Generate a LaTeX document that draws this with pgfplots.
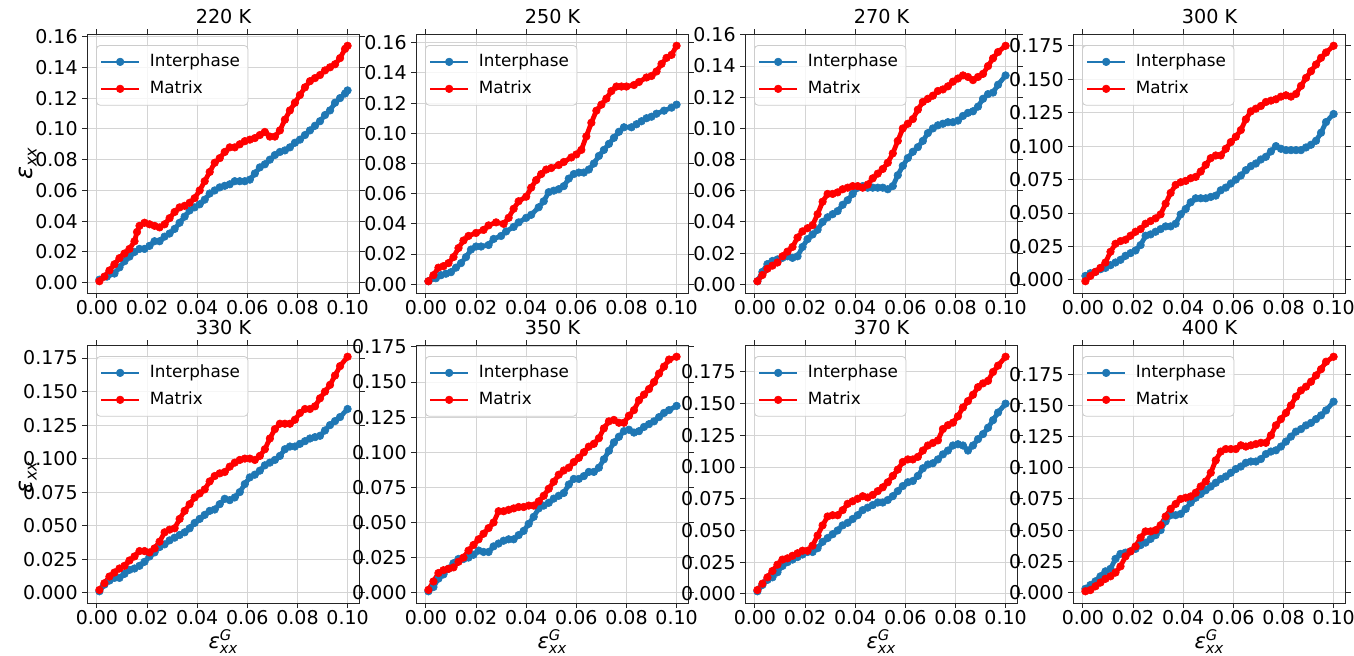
\documentclass[border=0pt]{standalone}
\usepackage{fontspec}
\setmainfont{DejaVu Sans}
\usepackage{amsmath}
\usepackage{pgfplots}
\pgfplotsset{compat=1.18}
\definecolor{cblue}{HTML}{1F77B4}
\definecolor{cred}{HTML}{FF0000}
\newcommand{\ylab}{$\text{\itshape ε}_{\text{\itshape xx}}$}
\newcommand{\xlab}{$\text{\itshape ε}^{\text{\itshape G}}_{\text{\itshape xx}}$}
\pgfplotsset{
 panel/.style={
   scale only axis, width=136.5pt, height=129.5pt, anchor=south west,
   enlarge x limits=0.05, enlarge y limits=0.05,
   xtick={0,0.02,0.04,0.06,0.08,0.1},
   scaled ticks=false,
   ticklabel style={font=\fontsize{9.5}{11}\selectfont},
   xticklabel style={inner ysep=1pt, /pgf/number format/.cd, fixed, fixed zerofill, precision=2, assume math mode=true},
   yticklabel style={inner xsep=2pt},
   tick align=outside, major tick length=2.5pt,
   tick style={black!85, line width=0.5pt},
   grid=major, major grid style={black!17, line width=0.5pt},
   axis line style={black!85, line width=0.5pt},
   every axis title/.style={at={(0.5,1)}, anchor=south, yshift=1.5pt, font=\fontsize{9.6}{11}\selectfont},
   every axis y label/.style={at={(axis description cs:0,0.5)}, anchor=center, xshift=-29.5pt, rotate=90, font=\fontsize{12}{14}\selectfont},
   every axis x label/.style={at={(axis description cs:0.5,0)}, anchor=north, inner sep=0pt, yshift=-13pt, font=\fontsize{10.5}{12}\selectfont},
   legend cell align=left,
   legend style={at={(0,1)}, xshift=4.5pt, yshift=-5.5pt, anchor=north west, draw=black!20, rounded corners=2pt, fill=white, fill opacity=0.8, text opacity=1, draw opacity=1, font=\fontsize{8.4}{10}\selectfont, inner xsep=2pt, inner ysep=2.3pt, row sep=1.6pt, column sep=3pt, nodes={inner sep=2pt, text depth=0.15em}},
   legend image code/.code={\draw[mark repeat=2, mark phase=2, #1, line width=0.75pt, opacity=1] plot coordinates {(0pt,0pt)(9.5pt,0pt)(19pt,0pt)};},
 },
 sI/.style={color=cblue, line width=2.4pt, line join=round, mark=*, mark size=1.9pt, mark options={solid, fill=cblue, draw=cblue, line width=0.3pt}},
 sM/.style={color=cred, line width=2.4pt, line join=round, mark=*, mark size=1.9pt, mark options={solid, fill=cred, draw=cred, line width=0.3pt}},
 yA/.style={ytick={0,0.02,0.04,0.06,0.08,0.1,0.12,0.14,0.16}, yticklabel style={/pgf/number format/.cd, fixed, fixed zerofill, precision=2, assume math mode=true}},
 yB/.style={ytick={0,0.025,0.05,0.075,0.1,0.125,0.15,0.175}, yticklabel style={/pgf/number format/.cd, fixed, fixed zerofill, precision=3, assume math mode=true}},
}
\begin{document}
\begin{tikzpicture}
\useasboundingbox (0,0) rectangle (677pt,327.5pt);
% ---------- 220 K
\begin{axis}[panel, yA, at={(43.5pt,181pt)}, title={220 K}, ylabel={\ylab}]
\addplot[sI] coordinates {(0.001,0.002)(0.004,0.004)(0.007,0.006)(0.009,0.010)(0.011,0.014)(0.013,0.017)(0.015,0.020)(0.017,0.022)(0.019,0.022)(0.021,0.024)(0.023,0.027)(0.025,0.027)(0.027,0.030)(0.029,0.032)(0.031,0.035)(0.033,0.039)(0.035,0.043)(0.037,0.047)(0.039,0.049)(0.041,0.051)(0.043,0.054)(0.045,0.058)(0.047,0.060)(0.049,0.062)(0.051,0.063)(0.053,0.064)(0.055,0.066)(0.057,0.066)(0.059,0.066)(0.061,0.067)(0.063,0.071)(0.065,0.075)(0.067,0.077)(0.069,0.080)(0.071,0.083)(0.073,0.085)(0.075,0.086)(0.077,0.088)(0.079,0.091)(0.081,0.093)(0.083,0.096)(0.085,0.099)(0.087,0.102)(0.089,0.105)(0.091,0.109)(0.093,0.112)(0.095,0.117)(0.097,0.120)(0.099,0.123)(0.100,0.125)};
\addlegendentry{Interphase}
\addplot[sM] coordinates {(0.001,0.001)(0.003,0.004)(0.005,0.008)(0.007,0.012)(0.009,0.016)(0.011,0.019)(0.013,0.022)(0.015,0.027)(0.016,0.033)(0.017,0.037)(0.019,0.039)(0.021,0.038)(0.023,0.037)(0.025,0.036)(0.027,0.038)(0.029,0.042)(0.031,0.046)(0.033,0.049)(0.035,0.050)(0.037,0.052)(0.039,0.055)(0.041,0.060)(0.043,0.066)(0.045,0.072)(0.047,0.078)(0.049,0.081)(0.051,0.085)(0.053,0.088)(0.055,0.088)(0.057,0.090)(0.059,0.092)(0.061,0.093)(0.063,0.094)(0.065,0.096)(0.067,0.098)(0.069,0.095)(0.071,0.095)(0.073,0.099)(0.075,0.106)(0.077,0.112)(0.079,0.117)(0.081,0.122)(0.083,0.127)(0.085,0.131)(0.087,0.133)(0.089,0.135)(0.091,0.138)(0.093,0.140)(0.095,0.142)(0.097,0.146)(0.099,0.152)(0.100,0.154)};
\addlegendentry{Matrix}
\end{axis}
% ---------- 250 K
\begin{axis}[panel, yA, at={(208pt,181pt)}, title={250 K}]
\addplot[sI] coordinates {(0.001,0.002)(0.004,0.004)(0.006,0.006)(0.008,0.007)(0.010,0.008)(0.012,0.011)(0.014,0.014)(0.016,0.018)(0.018,0.023)(0.020,0.025)(0.022,0.025)(0.025,0.026)(0.027,0.030)(0.030,0.032)(0.032,0.035)(0.035,0.038)(0.037,0.041)(0.040,0.044)(0.042,0.046)(0.045,0.051)(0.047,0.055)(0.049,0.061)(0.051,0.062)(0.053,0.063)(0.055,0.065)(0.057,0.070)(0.059,0.073)(0.061,0.074)(0.063,0.074)(0.065,0.076)(0.067,0.080)(0.069,0.085)(0.071,0.089)(0.073,0.093)(0.075,0.097)(0.077,0.101)(0.079,0.104)(0.082,0.104)(0.084,0.106)(0.086,0.108)(0.088,0.110)(0.090,0.111)(0.092,0.113)(0.095,0.115)(0.098,0.117)(0.100,0.119)};
\addlegendentry{Interphase}
\addplot[sM] coordinates {(0.001,0.002)(0.003,0.006)(0.005,0.011)(0.007,0.012)(0.009,0.014)(0.011,0.018)(0.013,0.024)(0.015,0.029)(0.017,0.032)(0.020,0.034)(0.023,0.036)(0.025,0.039)(0.028,0.041)(0.031,0.040)(0.033,0.044)(0.035,0.050)(0.037,0.055)(0.040,0.058)(0.042,0.064)(0.044,0.069)(0.046,0.073)(0.048,0.076)(0.050,0.077)(0.053,0.079)(0.055,0.081)(0.058,0.084)(0.060,0.086)(0.062,0.089)(0.064,0.098)(0.066,0.107)(0.068,0.115)(0.070,0.119)(0.072,0.123)(0.074,0.128)(0.076,0.131)(0.078,0.131)(0.080,0.131)(0.083,0.132)(0.085,0.134)(0.088,0.137)(0.090,0.138)(0.092,0.141)(0.094,0.146)(0.096,0.150)(0.098,0.152)(0.100,0.158)};
\addlegendentry{Matrix}
\end{axis}
% ---------- 270 K
\begin{axis}[panel, yA, at={(372.5pt,181pt)}, title={270 K}]
\addplot[sI] coordinates {(0.001,0.002)(0.003,0.008)(0.005,0.013)(0.007,0.015)(0.009,0.016)(0.011,0.017)(0.013,0.018)(0.015,0.017)(0.017,0.018)(0.019,0.024)(0.021,0.029)(0.023,0.032)(0.025,0.035)(0.027,0.040)(0.029,0.043)(0.031,0.045)(0.033,0.047)(0.035,0.051)(0.037,0.054)(0.039,0.058)(0.041,0.062)(0.043,0.063)(0.045,0.062)(0.047,0.062)(0.049,0.062)(0.051,0.062)(0.053,0.061)(0.055,0.063)(0.057,0.070)(0.059,0.076)(0.061,0.081)(0.063,0.085)(0.065,0.088)(0.067,0.092)(0.069,0.097)(0.071,0.100)(0.073,0.102)(0.075,0.103)(0.077,0.104)(0.079,0.104)(0.081,0.105)(0.083,0.108)(0.085,0.110)(0.087,0.111)(0.089,0.114)(0.091,0.119)(0.093,0.122)(0.095,0.123)(0.097,0.128)(0.100,0.134)};
\addlegendentry{Interphase}
\addplot[sM] coordinates {(0.001,0.002)(0.003,0.006)(0.005,0.010)(0.007,0.012)(0.009,0.014)(0.011,0.018)(0.013,0.021)(0.015,0.024)(0.017,0.030)(0.019,0.034)(0.021,0.036)(0.023,0.038)(0.025,0.045)(0.027,0.053)(0.029,0.058)(0.031,0.058)(0.033,0.059)(0.035,0.061)(0.037,0.062)(0.039,0.063)(0.041,0.063)(0.043,0.062)(0.045,0.064)(0.047,0.068)(0.049,0.071)(0.051,0.074)(0.053,0.078)(0.055,0.084)(0.057,0.092)(0.059,0.100)(0.061,0.103)(0.063,0.106)(0.065,0.112)(0.067,0.117)(0.069,0.119)(0.071,0.121)(0.073,0.124)(0.075,0.125)(0.077,0.127)(0.079,0.130)(0.081,0.132)(0.083,0.134)(0.085,0.133)(0.087,0.131)(0.089,0.133)(0.091,0.135)(0.093,0.140)(0.095,0.145)(0.097,0.149)(0.100,0.153)};
\addlegendentry{Matrix}
\end{axis}
% ---------- 300 K
\begin{axis}[panel, yB, at={(536.5pt,181pt)}, title={300 K}]
\addplot[sI] coordinates {(0.001,0.003)(0.003,0.005)(0.005,0.006)(0.007,0.008)(0.009,0.009)(0.011,0.011)(0.013,0.013)(0.015,0.015)(0.017,0.018)(0.019,0.020)(0.021,0.022)(0.023,0.026)(0.025,0.033)(0.027,0.034)(0.029,0.036)(0.031,0.038)(0.033,0.040)(0.035,0.040)(0.037,0.042)(0.039,0.049)(0.041,0.053)(0.043,0.058)(0.045,0.061)(0.047,0.061)(0.049,0.061)(0.051,0.062)(0.053,0.063)(0.055,0.067)(0.057,0.069)(0.059,0.072)(0.061,0.075)(0.063,0.078)(0.065,0.082)(0.067,0.085)(0.069,0.087)(0.071,0.090)(0.073,0.092)(0.075,0.096)(0.077,0.100)(0.079,0.098)(0.081,0.097)(0.083,0.097)(0.085,0.097)(0.087,0.097)(0.089,0.099)(0.091,0.101)(0.093,0.104)(0.095,0.110)(0.097,0.118)(0.100,0.124)};
\addlegendentry{Interphase}
\addplot[sM] coordinates {(0.001,-0.001)(0.003,0.003)(0.005,0.006)(0.007,0.009)(0.009,0.013)(0.011,0.021)(0.013,0.027)(0.015,0.029)(0.017,0.030)(0.019,0.033)(0.021,0.036)(0.023,0.038)(0.025,0.042)(0.027,0.044)(0.029,0.046)(0.031,0.049)(0.033,0.057)(0.035,0.065)(0.037,0.071)(0.039,0.073)(0.041,0.074)(0.043,0.076)(0.045,0.077)(0.047,0.081)(0.049,0.086)(0.051,0.091)(0.053,0.093)(0.055,0.093)(0.057,0.098)(0.059,0.103)(0.061,0.107)(0.063,0.112)(0.065,0.120)(0.067,0.126)(0.069,0.128)(0.071,0.130)(0.073,0.133)(0.075,0.134)(0.077,0.135)(0.079,0.137)(0.081,0.138)(0.083,0.137)(0.085,0.139)(0.087,0.145)(0.089,0.151)(0.091,0.156)(0.093,0.161)(0.095,0.166)(0.097,0.170)(0.100,0.175)};
\addlegendentry{Matrix}
\end{axis}
% ---------- 330 K
\begin{axis}[panel, yB, at={(43.5pt,26pt)}, height=129pt, title={330 K}, ylabel={\ylab}, xlabel={\xlab}, every axis y label/.append style={xshift=-1.5pt}]
\addplot[sI] coordinates {(0.001,0.001)(0.003,0.006)(0.005,0.009)(0.007,0.011)(0.009,0.011)(0.011,0.014)(0.013,0.017)(0.015,0.018)(0.017,0.020)(0.019,0.023)(0.021,0.027)(0.023,0.030)(0.025,0.034)(0.027,0.036)(0.029,0.039)(0.031,0.041)(0.033,0.043)(0.035,0.045)(0.037,0.048)(0.039,0.052)(0.041,0.055)(0.043,0.058)(0.045,0.061)(0.047,0.062)(0.049,0.066)(0.051,0.070)(0.053,0.069)(0.055,0.071)(0.057,0.075)(0.059,0.081)(0.061,0.086)(0.063,0.088)(0.065,0.091)(0.067,0.095)(0.069,0.097)(0.071,0.099)(0.073,0.102)(0.075,0.107)(0.077,0.109)(0.079,0.109)(0.081,0.111)(0.083,0.113)(0.085,0.115)(0.087,0.116)(0.089,0.117)(0.091,0.121)(0.093,0.125)(0.095,0.128)(0.097,0.131)(0.100,0.137)};
\addlegendentry{Interphase}
\addplot[sM] coordinates {(0.001,0.002)(0.003,0.007)(0.005,0.012)(0.007,0.015)(0.009,0.018)(0.011,0.020)(0.013,0.024)(0.015,0.027)(0.017,0.031)(0.019,0.031)(0.021,0.030)(0.023,0.033)(0.025,0.038)(0.027,0.045)(0.029,0.047)(0.031,0.048)(0.033,0.055)(0.035,0.061)(0.037,0.066)(0.039,0.071)(0.041,0.074)(0.043,0.077)(0.045,0.083)(0.047,0.087)(0.049,0.089)(0.051,0.090)(0.053,0.094)(0.055,0.097)(0.057,0.099)(0.059,0.100)(0.061,0.100)(0.063,0.099)(0.065,0.102)(0.067,0.107)(0.069,0.115)(0.071,0.122)(0.073,0.126)(0.075,0.126)(0.077,0.126)(0.079,0.129)(0.081,0.134)(0.083,0.137)(0.085,0.137)(0.087,0.139)(0.089,0.145)(0.091,0.150)(0.093,0.155)(0.095,0.162)(0.097,0.169)(0.100,0.176)};
\addlegendentry{Matrix}
\end{axis}
% ---------- 350 K
\begin{axis}[panel, yB, at={(208pt,26pt)}, height=129pt, title={350 K}, xlabel={\xlab}]
\addplot[sI] coordinates {(0.001,0.001)(0.003,0.004)(0.005,0.010)(0.007,0.013)(0.009,0.017)(0.011,0.021)(0.013,0.024)(0.015,0.024)(0.017,0.025)(0.019,0.027)(0.021,0.030)(0.023,0.029)(0.025,0.029)(0.027,0.033)(0.029,0.035)(0.031,0.037)(0.033,0.038)(0.035,0.038)(0.037,0.041)(0.039,0.044)(0.041,0.049)(0.043,0.054)(0.045,0.060)(0.047,0.062)(0.049,0.064)(0.051,0.067)(0.053,0.069)(0.055,0.071)(0.057,0.077)(0.059,0.081)(0.061,0.081)(0.063,0.083)(0.065,0.086)(0.067,0.086)(0.069,0.089)(0.071,0.095)(0.073,0.101)(0.075,0.107)(0.077,0.111)(0.079,0.115)(0.081,0.116)(0.083,0.114)(0.085,0.115)(0.087,0.118)(0.089,0.120)(0.091,0.122)(0.093,0.125)(0.095,0.128)(0.097,0.130)(0.100,0.133)};
\addlegendentry{Interphase}
\addplot[sM] coordinates {(0.001,0.002)(0.003,0.008)(0.005,0.014)(0.007,0.016)(0.009,0.017)(0.011,0.018)(0.013,0.022)(0.015,0.025)(0.017,0.030)(0.019,0.034)(0.021,0.038)(0.023,0.042)(0.025,0.046)(0.027,0.050)(0.029,0.058)(0.031,0.058)(0.033,0.059)(0.035,0.060)(0.037,0.061)(0.039,0.061)(0.041,0.062)(0.043,0.062)(0.045,0.065)(0.047,0.069)(0.049,0.074)(0.051,0.079)(0.053,0.084)(0.055,0.087)(0.057,0.089)(0.059,0.093)(0.061,0.096)(0.063,0.100)(0.065,0.104)(0.067,0.106)(0.069,0.110)(0.071,0.117)(0.073,0.122)(0.075,0.123)(0.077,0.121)(0.079,0.121)(0.081,0.126)(0.083,0.130)(0.085,0.137)(0.087,0.141)(0.089,0.145)(0.091,0.150)(0.093,0.156)(0.095,0.161)(0.097,0.166)(0.100,0.168)};
\addlegendentry{Matrix}
\end{axis}
% ---------- 370 K
\begin{axis}[panel, yB, at={(372.5pt,26pt)}, height=129pt, title={370 K}, xlabel={\xlab}]
\addplot[sI] coordinates {(0.001,0.002)(0.003,0.007)(0.005,0.011)(0.007,0.013)(0.009,0.017)(0.011,0.022)(0.013,0.025)(0.015,0.027)(0.017,0.029)(0.019,0.031)(0.021,0.033)(0.023,0.033)(0.025,0.036)(0.027,0.041)(0.029,0.044)(0.031,0.047)(0.033,0.050)(0.035,0.054)(0.037,0.056)(0.039,0.059)(0.041,0.062)(0.043,0.066)(0.045,0.068)(0.047,0.070)(0.049,0.072)(0.051,0.072)(0.053,0.074)(0.055,0.077)(0.057,0.081)(0.059,0.085)(0.061,0.088)(0.063,0.089)(0.065,0.093)(0.067,0.099)(0.069,0.102)(0.071,0.103)(0.073,0.106)(0.075,0.110)(0.077,0.113)(0.079,0.117)(0.081,0.118)(0.083,0.117)(0.085,0.113)(0.087,0.117)(0.089,0.122)(0.091,0.126)(0.093,0.131)(0.095,0.137)(0.097,0.143)(0.100,0.150)};
\addlegendentry{Interphase}
\addplot[sM] coordinates {(0.001,0.003)(0.003,0.008)(0.005,0.013)(0.007,0.018)(0.009,0.023)(0.011,0.027)(0.013,0.028)(0.015,0.030)(0.017,0.032)(0.019,0.034)(0.021,0.034)(0.023,0.038)(0.025,0.046)(0.027,0.054)(0.029,0.061)(0.031,0.062)(0.033,0.062)(0.035,0.066)(0.037,0.071)(0.039,0.073)(0.041,0.075)(0.043,0.077)(0.045,0.076)(0.047,0.078)(0.049,0.081)(0.051,0.084)(0.053,0.088)(0.055,0.093)(0.057,0.098)(0.059,0.104)(0.061,0.106)(0.063,0.106)(0.065,0.108)(0.067,0.113)(0.069,0.117)(0.071,0.119)(0.073,0.121)(0.075,0.130)(0.077,0.133)(0.079,0.135)(0.081,0.140)(0.083,0.147)(0.085,0.152)(0.087,0.157)(0.089,0.163)(0.091,0.166)(0.093,0.168)(0.095,0.175)(0.097,0.180)(0.100,0.187)};
\addlegendentry{Matrix}
\end{axis}
% ---------- 400 K
\begin{axis}[panel, yB, at={(536.5pt,26pt)}, height=129pt, title={400 K}, xlabel={\xlab}]
\addplot[sI] coordinates {(0.001,0.003)(0.003,0.006)(0.005,0.009)(0.007,0.013)(0.009,0.017)(0.011,0.019)(0.013,0.027)(0.015,0.031)(0.017,0.032)(0.019,0.033)(0.021,0.035)(0.023,0.038)(0.025,0.040)(0.027,0.043)(0.029,0.046)(0.031,0.050)(0.033,0.057)(0.035,0.062)(0.037,0.062)(0.039,0.063)(0.041,0.067)(0.043,0.072)(0.045,0.076)(0.047,0.079)(0.049,0.082)(0.051,0.085)(0.053,0.088)(0.055,0.091)(0.057,0.093)(0.059,0.096)(0.061,0.099)(0.063,0.101)(0.065,0.104)(0.067,0.105)(0.069,0.105)(0.071,0.107)(0.073,0.111)(0.075,0.113)(0.077,0.114)(0.079,0.117)(0.081,0.121)(0.083,0.125)(0.085,0.129)(0.087,0.131)(0.089,0.134)(0.091,0.136)(0.093,0.139)(0.095,0.142)(0.097,0.146)(0.100,0.153)};
\addlegendentry{Interphase}
\addplot[sM] coordinates {(0.001,0.001)(0.003,0.002)(0.005,0.005)(0.007,0.008)(0.009,0.011)(0.011,0.013)(0.013,0.016)(0.015,0.021)(0.017,0.029)(0.019,0.033)(0.021,0.037)(0.023,0.044)(0.025,0.049)(0.027,0.049)(0.029,0.050)(0.031,0.054)(0.033,0.061)(0.035,0.067)(0.037,0.071)(0.039,0.075)(0.041,0.076)(0.043,0.077)(0.045,0.080)(0.047,0.085)(0.049,0.089)(0.051,0.096)(0.053,0.106)(0.055,0.113)(0.057,0.115)(0.059,0.115)(0.061,0.115)(0.063,0.118)(0.065,0.117)(0.067,0.118)(0.069,0.119)(0.071,0.120)(0.073,0.120)(0.075,0.126)(0.077,0.134)(0.079,0.139)(0.081,0.144)(0.083,0.150)(0.085,0.157)(0.087,0.162)(0.089,0.165)(0.091,0.169)(0.093,0.174)(0.095,0.179)(0.097,0.185)(0.100,0.189)};
\addlegendentry{Matrix}
\end{axis}
\end{tikzpicture}
\end{document}
